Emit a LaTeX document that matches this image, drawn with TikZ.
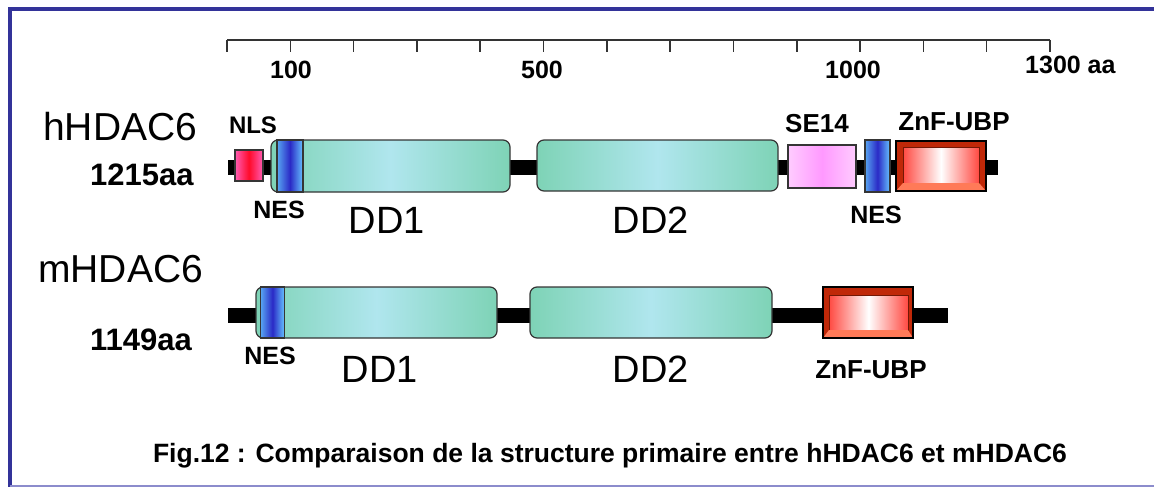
\documentclass[tikz,border=0pt]{standalone}
\usepackage{fontspec}
\setmainfont{Liberation Sans}
\usepackage{tikz}

\definecolor{framedark}{HTML}{333399}
\definecolor{framelight}{HTML}{8C8CCC}
\definecolor{domline}{HTML}{353535}
\definecolor{ddedge}{HTML}{7ED3B6}
\definecolor{ddmid}{HTML}{B0E6EE}
\definecolor{neslight}{HTML}{58A6F2}
\definecolor{nesright}{HTML}{66C2FF}
\definecolor{nesdark}{HTML}{2A2AC6}
\definecolor{nlspink}{HTML}{FF5CB4}
\definecolor{nlsred}{HTML}{FF0A2A}
\definecolor{sepink}{HTML}{FFCCFF}
\definecolor{semid}{HTML}{FF99FF}
\definecolor{zfdark}{HTML}{C02808}
\definecolor{zflight}{HTML}{FF7A58}
\definecolor{zfred}{HTML}{FF4A42}

\begin{document}
\begin{tikzpicture}[x=1pt, y=-1pt,
	backbone/.style={line width=15pt, black},
	scaleline/.style={line width=1.5pt, black!80},
	dom/.style={draw=domline, line width=1.2pt, inner sep=0pt, outer sep=0pt, minimum height=52pt},
	ddbox/.style={dom, rounded corners=7pt, left color=ddedge, right color=ddedge, middle color=ddmid},
	nesbox/.style={dom, left color=neslight, right color=nesright, middle color=nesdark},
	nlsbox/.style={dom, minimum width=28pt, minimum height=31pt, left color=nlspink, right color=nlspink, middle color=nlsred},
	sebox/.style={dom, minimum width=68pt, minimum height=43pt, left color=sepink, right color=sepink, middle color=semid},
	zfbox/.style={fill=zfdark, inner sep=0pt, outer sep=0pt, minimum width=90pt},
	zfinner/.style={draw=zfdark!60!black, line width=1pt, inner sep=0pt, outer sep=0pt, left color=zfred, right color=zfred, middle color=white},
	zfborder/.style={draw=black, line width=1.5pt},
	protname/.style={font=\fontsize{39}{40}\selectfont, inner sep=0pt, anchor=base west},
	protlen/.style={font=\bfseries\fontsize{31}{32}\selectfont, inner sep=0pt, anchor=base west},
	domlabel/.style={font=\bfseries\fontsize{25}{26}\selectfont, inner sep=0pt, anchor=base},
	ddlabel/.style={font=\fontsize{38}{40}\selectfont, inner sep=0pt, anchor=base},
	zflabel/.style={font=\bfseries\fontsize{26}{28}\selectfont, inner sep=0pt, anchor=base}]

	\useasboundingbox (0,0) rectangle (1154,487);

	%Frame
	\draw[framedark, line width=4.5pt] (10,487) -- (10,9) -- (1154,9);
	\draw[framelight, line width=1.5pt] (10,486) -- (1154,486);

	% Draw scale
	\coordinate (s0) at (227,40);
	\coordinate (s13) at (1050,40);
	\draw[scaleline] (s0) -- (s13);
	\foreach \i in {0,...,13}
		\draw[scaleline] ({227+823*\i/13},40) -- ++(0,12);
	\node[domlabel] (t100) at (291,78) {100};
	\node[domlabel] (t500) at (542,78) {500};
	\node[domlabel] (t1000) at (853,78) {1000};
	\node[domlabel, anchor=base west] (t1300) at (1025,74) {1300 aa};

	%hHDAC6
	\node[protname] (hname) at (43,140) {hHDAC6};
	\node[protlen] (hlen) at (90,185) {1215aa};
	\coordinate (hN) at (228,167);
	\coordinate (hC) at (998,167);
	\draw[backbone] (hN) -- (hC);
	\node[nlsbox] (hNLS) at (249,165.5) {};
	\node[ddbox, minimum width=239pt] (hDDone) at (390.5,166) {};
	\node[nesbox, minimum width=26pt] (hNESone) at (290,166) {};
	\node[ddbox, minimum width=241pt, minimum height=51pt] (hDDtwo) at (657.5,165.5) {};
	\node[sebox] (hSE) at (822,166.5) {};
	\node[nesbox, minimum width=25pt] (hNEStwo) at (877.5,166) {};
	\node[zfbox, minimum height=50pt] (hZnF) at (941,166) {};
	\node[zfinner, minimum width=76pt, minimum height=36pt] (hZnFin) at (941,165) {};
	\fill[zflight] (hZnF.south west) -- (hZnF.south east) -- (hZnFin.south east) -- (hZnFin.south west) -- cycle;
	\draw[zfborder] (hZnF.south west) rectangle (hZnF.north east);

	\node[domlabel, font=\bfseries\fontsize{24}{26}\selectfont] (hNLSlab) at (253,133) {NLS};
	\node[domlabel] (hNESonelab) at (279,218) {NES};
	\node[ddlabel] (hDDonelab) at (387,233) {DD1};
	\node[ddlabel] (hDDtwolab) at (651,233) {DD2};
	\node[domlabel, font=\bfseries\fontsize{26}{28}\selectfont] (hSElab) at (817,132) {SE14};
	\node[zflabel] (hZnFlab) at (954,130) {ZnF-UBP};
	\node[domlabel] (hNEStwolab) at (876,223) {NES};

	%mHDAC6
	\node[protname] (mname) at (38,282) {mHDAC6};
	\node[protlen] (mlen) at (90,350) {1149aa};
	\coordinate (mN) at (228,315);
	\coordinate (mC) at (948,315);
	\draw[backbone] (mN) -- (mC);
	\node[ddbox, minimum width=241pt, minimum height=51pt] (mDDone) at (376.5,312.5) {};
	\node[nesbox, minimum width=24pt, minimum height=51pt] (mNES) at (272.5,312.5) {};
	\node[ddbox, minimum width=242pt, minimum height=51pt] (mDDtwo) at (651,312.5) {};
	\node[zfbox, minimum height=51pt] (mZnF) at (868,312.5) {};
	\node[zfinner, minimum width=79pt, minimum height=35pt] (mZnFin) at (868.5,312.5) {};
	\fill[zflight] (mZnF.south west) -- (mZnF.south east) -- (mZnFin.south east) -- (mZnFin.south west) -- cycle;
	\draw[zfborder] (mZnF.south west) rectangle (mZnF.north east);

	\node[domlabel] (mNESlab) at (270,364) {NES};
	\node[ddlabel] (mDDonelab) at (380,382) {DD1};
	\node[ddlabel] (mDDtwolab) at (651,382) {DD2};
	\node[zflabel] (mZnFlab) at (871,378) {ZnF-UBP};

	%Caption
	\node[domlabel, font=\bfseries\fontsize{26.5}{28}\selectfont] (caption) at (610,462) {Fig.12 : Comparaison de la structure primaire entre hHDAC6 et mHDAC6};

\end{tikzpicture}
\end{document}
